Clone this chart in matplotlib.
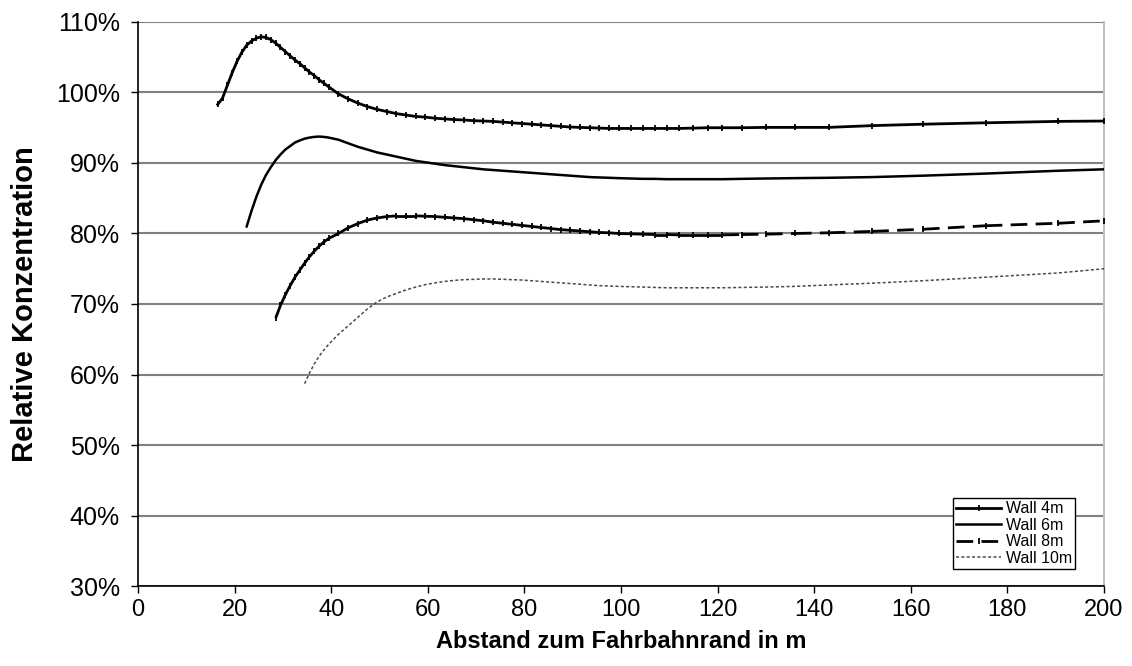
import matplotlib
matplotlib.use("Agg")
import matplotlib.pyplot as plt
from matplotlib.collections import LineCollection
from matplotlib.lines import Line2D
from matplotlib.ticker import FuncFormatter, MultipleLocator
import numpy as np

# shared distance grid (m)
X = [16.5, 17.5, 18.5, 19.5, 20.5, 21.5, 22.5, 23.5, 24.5, 25.5, 26.5, 27.5,
     28.5, 29.5, 30.5, 31.5, 32.5, 33.5, 34.5, 35.5, 36.5, 37.5, 38.5, 39.5,
     41.5, 43.5, 45.5, 47.5, 49.5, 51.5, 53.5, 55.5, 57.5, 59.5, 61.5, 63.5,
     65.5, 67.5, 69.5, 71.5, 73.5, 75.5, 77.5, 79.5, 81.5, 83.5, 85.5, 87.5,
     89.5, 91.5, 93.5, 95.5, 97.5, 99.5, 102, 104.5, 107, 109.5, 112, 115,
     118, 121, 125, 130, 136, 143, 152, 162.5, 175.5, 190.5, 200]

# relative concentration (%) per wall height; each series covers the tail of X
WALL_4M = [98.3, 99.2, 101.0, 102.8, 104.4, 105.7, 106.7, 107.3, 107.7, 107.9,
           107.8, 107.5, 107.0, 106.4, 105.8, 105.2, 104.6, 104.1, 103.5, 102.9,
           102.4, 101.8, 101.3, 100.8, 99.8, 99.1, 98.5, 98.0, 97.6, 97.3, 97.0,
           96.8, 96.6, 96.5, 96.35, 96.25, 96.15, 96.1, 96.0, 95.95, 95.9, 95.8,
           95.7, 95.6, 95.5, 95.4, 95.3, 95.2, 95.1, 95.05, 95.0, 94.95, 94.9,
           94.9, 94.9, 94.9, 94.9, 94.9, 94.9, 94.95, 95.0, 95.0, 95.0, 95.05,
           95.05, 95.05, 95.3, 95.5, 95.7, 95.9, 95.95]
WALL_6M = [81.0, 83.2, 85.2, 86.9, 88.3, 89.4, 90.4, 91.2, 91.9, 92.4, 92.9,
           93.2, 93.45, 93.6, 93.7, 93.75, 93.7, 93.6, 93.3, 92.8, 92.3, 91.9,
           91.5, 91.2, 90.9, 90.6, 90.3, 90.1, 89.9, 89.7, 89.55, 89.4, 89.25,
           89.1, 89.0, 88.9, 88.8, 88.7, 88.6, 88.5, 88.4, 88.3, 88.2, 88.1,
           88.0, 87.95, 87.9, 87.85, 87.8, 87.75, 87.75, 87.7, 87.7, 87.7, 87.7,
           87.7, 87.75, 87.8, 87.85, 87.9, 88.0, 88.2, 88.5, 88.9, 89.1]
WALL_8M = [68.0, 69.8, 71.3, 72.6, 73.8, 74.8, 75.8, 76.7, 77.5, 78.2, 78.8,
           79.3, 80.0, 80.8, 81.4, 81.9, 82.2, 82.4, 82.5, 82.5, 82.5, 82.45,
           82.4, 82.3, 82.2, 82.1, 81.95, 81.8, 81.6, 81.45, 81.3, 81.15, 81.0,
           80.85, 80.7, 80.55, 80.45, 80.35, 80.25, 80.15, 80.1, 80.0, 79.95,
           79.9, 79.85, 79.85, 79.8, 79.8, 79.8, 79.8, 79.85, 79.9, 80.0, 80.1,
           80.3, 80.6, 81.1, 81.45, 81.8]
WALL_10M = [58.7, 60.2, 61.5, 62.6, 63.5, 64.3, 65.7, 66.9, 68.1, 69.3, 70.3,
            71.0, 71.5, 72.0, 72.4, 72.75, 73.0, 73.2, 73.35, 73.45, 73.5,
            73.55, 73.55, 73.5, 73.45, 73.4, 73.3, 73.2, 73.1, 73.0, 72.9,
            72.8, 72.7, 72.6, 72.55, 72.5, 72.45, 72.4, 72.35, 72.3, 72.3,
            72.3, 72.3, 72.3, 72.35, 72.4, 72.5, 72.7, 72.95, 73.3, 73.8, 74.4,
            75.0]

LABELS = ["Wall 4m", "Wall 6m", "Wall 8m", "Wall 10m"]
X_TICKS = list(range(0, 201, 20))

plt.rcParams["font.family"] = ["Liberation Sans", "DejaVu Sans"]


def tail(values):
    x = np.array(X[-len(values):], dtype=float)
    return x, np.array(values, dtype=float) / 100.0


fig = plt.figure(figsize=(11.32, 6.66), dpi=100)
ax = fig.add_axes([0.1219, 0.1201, 0.8534, 0.8469])

# Wall 4m: solid with small tick markers
x4, y4 = tail(WALL_4M)
ax.plot(x4, y4, color="black", lw=2.0, marker="|", ms=4, mew=1.3, zorder=4)

# Wall 6m: plain solid
x6, y6 = tail(WALL_6M)
ax.plot(x6, y6, color="black", lw=1.8, zorder=4)

# Wall 8m: dashed, dash pattern restarts on every segment (Excel style)
x8, y8 = tail(WALL_8M)
pts = np.column_stack([x8, y8])
segs = np.stack([pts[:-1], pts[1:]], axis=1)
ax.add_collection(LineCollection(segs, colors="black", linewidths=2.0,
                                 linestyles=[(0, (6, 3))], zorder=4))
ax.plot(x8, y8, ls="none", color="black", marker="|", ms=4, mew=1.3, zorder=4)

# Wall 10m: thin gray dotted
x10, y10 = tail(WALL_10M)
ax.plot(x10, y10, color="#4a4a4a", lw=1.1, ls=(0, (2, 1.5)), zorder=4)

ax.set_xlim(0, 200)
ax.set_ylim(0.30, 1.10)
ax.set_xticks(X_TICKS)
ax.yaxis.set_major_locator(MultipleLocator(0.10))
ax.yaxis.set_major_formatter(FuncFormatter(lambda v, _: f"{v * 100:.0f}%"))
ax.tick_params(axis="both", direction="out", length=5, width=1, color="black")
ax.tick_params(axis="y", pad=8, labelsize=18)
ax.tick_params(axis="x", pad=4, labelsize=17)

ax.grid(axis="y", color="#808080", lw=1.5)
ax.set_axisbelow(True)
ax.spines["top"].set_visible(False)
ax.spines["right"].set_color("#c0c0c0")
ax.spines["right"].set_linewidth(1.5)
ax.spines["left"].set_linewidth(1.2)
ax.spines["bottom"].set_linewidth(1.2)

ax.set_xlabel("Abstand zum Fahrbahnrand in m", fontsize=17, fontweight="bold",
              labelpad=7)
ax.set_ylabel("Relative Konzentration", fontsize=21, fontweight="bold",
              labelpad=12)

handles = [
    Line2D([], [], color="black", lw=2.0, marker="|", ms=4, mew=1.3),
    Line2D([], [], color="black", lw=1.8),
    Line2D([], [], color="black", lw=2.0, ls=(0, (6, 3)), marker="|", ms=4,
           mew=1.3),
    Line2D([], [], color="#4a4a4a", lw=1.1, ls=(0, (2, 1.5))),
]
leg = ax.legend(handles, LABELS, loc="lower right",
                bbox_to_anchor=(0.97, 0.03), fontsize=11.5, frameon=True,
                fancybox=False, edgecolor="black", framealpha=1,
                handlelength=2.8, handletextpad=0.3, borderpad=0.2,
                labelspacing=0.1, borderaxespad=0)
leg.get_frame().set_linewidth(1.0)

fig.savefig("out.png", dpi=100)
